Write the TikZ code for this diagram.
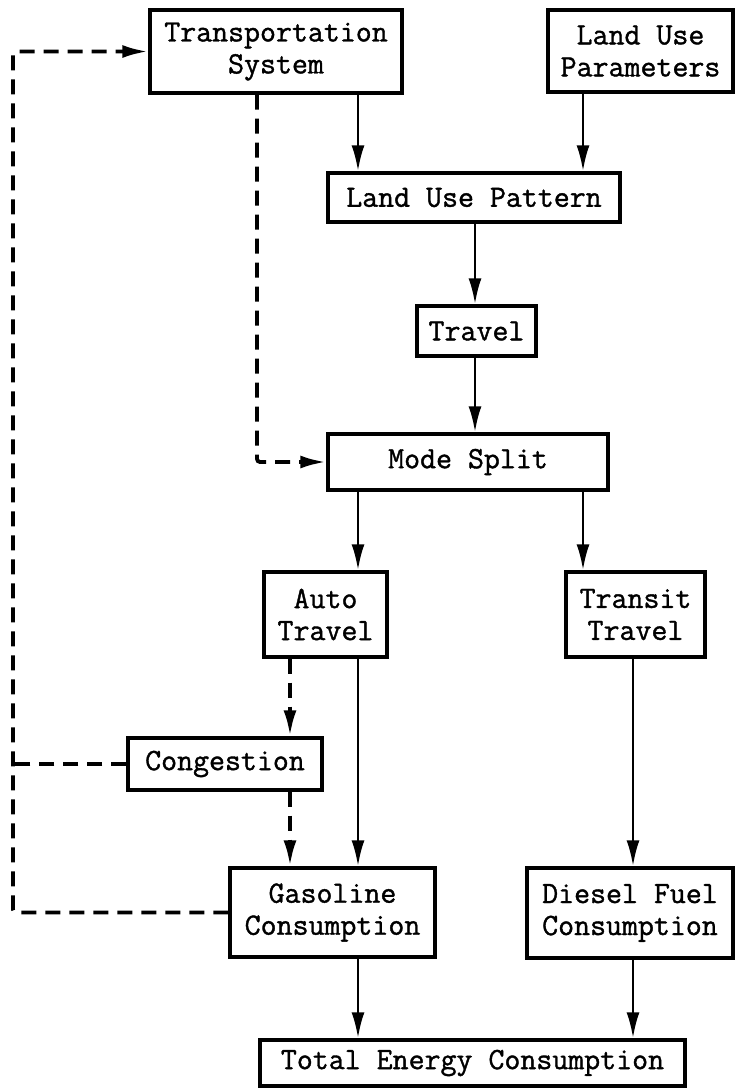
\documentclass[tikz,border=0pt]{standalone}
\usepackage{fontspec}
\setmonofont[FakeBold=1.2]{Latin Modern Mono}
\usetikzlibrary{arrows.meta}
\begin{document}
\begin{tikzpicture}[x=1pt,y=-1pt,
  box/.style={draw, line width=3.4pt, inner sep=0pt, align=center,
    font=\ttfamily\fontsize{31}{32}\selectfont},
  arr/.style={line width=2.8pt, -{Latex[length=26pt,width=13pt]}},
  darr/.style={line width=3.8pt, dash pattern=on 15pt off 9pt,
    -{Latex[length=26pt,width=13pt]}},
  dline/.style={line width=3.8pt, dash pattern=on 15pt off 9pt, rounded corners=3pt}]
\useasboundingbox (0,0) rectangle (735,1088);
% nodes
\node[box, minimum width=252pt, minimum height=83pt] (TS) at (276,51.5) {Transportation\\System};
\node[box, minimum width=185pt, minimum height=82pt] (LUP) at (640.5,51) {Land Use\\Parameters};
\node[box, minimum width=292pt, minimum height=49pt] (LUPat) at (474,197.5) {Land Use Pattern};
\node[box, minimum width=119pt, minimum height=50pt] (Trav) at (476.5,331) {Travel};
\node[box, minimum width=280pt, minimum height=56pt] (Mode) at (468,462) {Mode Split};
\node[box, minimum width=123pt, minimum height=85pt] (Auto) at (325.5,614.5) {Auto\\Travel};
\node[box, minimum width=139pt, minimum height=85pt] (Transit) at (635.5,614.5) {Transit\\Travel};
\node[box, minimum width=194pt, minimum height=52pt] (Cong) at (225,764) {Congestion};
\node[box, minimum width=205pt, minimum height=89pt] (Gas) at (332.5,912.5) {Gasoline\\Consumption};
\node[box, minimum width=206pt, minimum height=90pt] (Dies) at (630,913) {Diesel Fuel\\Consumption};
\node[box, minimum width=425pt, minimum height=46pt] (Tot) at (472.5,1063) {Total Energy Consumption};
% column coordinates
\coordinate (cA) at (257,0);
\coordinate (cB) at (358,0);
\coordinate (cC) at (475,0);
\coordinate (cD) at (583,0);
\coordinate (cE) at (290,0);
\coordinate (cF) at (633,0);
\coordinate (cL) at (13,0);
% solid arrows
\draw[arr] (TS.south -| cB) -- (LUPat.north -| cB);
\draw[arr] (LUP.south -| cD) -- (LUPat.north -| cD);
\draw[arr] (LUPat.south -| cC) -- (Trav.north -| cC);
\draw[arr] (Trav.south -| cC) -- (Mode.north -| cC);
\draw[arr] (Mode.south -| cB) -- (Auto.north -| cB);
\draw[arr] (Mode.south -| cD) -- (Transit.north -| cD);
\draw[arr] (Auto.south -| cB) -- (Gas.north -| cB);
\draw[arr] (Transit.south -| cF) -- (Dies.north -| cF);
\draw[arr] (Gas.south -| cB) -- (Tot.north -| cB);
\draw[arr] (Dies.south -| cF) -- (Tot.north -| cF);
% dashed connectors
\draw[darr, rounded corners=3pt] (TS.south -| cA) -- (Mode.west -| cA) -- (Mode.west);
\draw[darr] (Auto.south -| cE) -- (Cong.north -| cE);
\draw[darr] (Cong.south -| cE) -- (Gas.north -| cE);
\draw[dline] (Cong.west) -- (Cong.west -| cL);
\draw[darr, rounded corners=3pt] (Gas.west) -- (Gas.west -| cL) -- (TS.west -| cL) -- (TS.west);
\end{tikzpicture}
\end{document}
